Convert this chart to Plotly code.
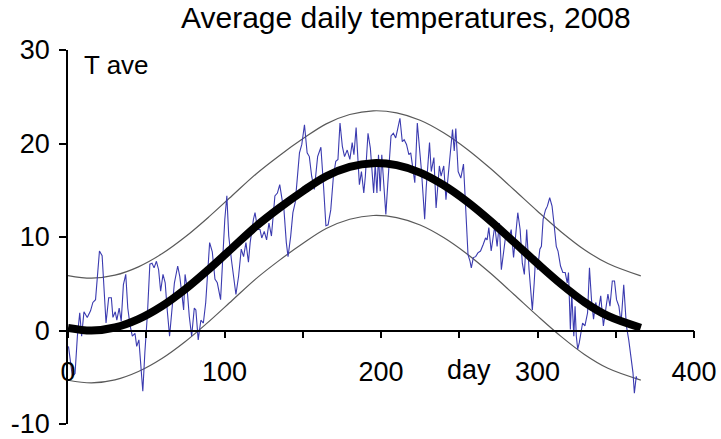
import plotly.graph_objects as go

# ---- data ----
mean_days = [0, 15, 30, 45, 60, 75, 90, 105, 120, 135, 150, 165, 180, 195, 210,
             225, 240, 255, 270, 285, 300, 315, 330, 345, 366]
mean_vals = [0.28, 0.0, 0.32, 1.21, 2.60, 4.42, 6.55, 8.84, 11.12, 13.1, 14.9, 16.5,
             17.5, 17.9, 17.68, 16.89, 15.55, 13.79, 11.72, 9.45, 7.16, 4.97, 3.04, 1.56, 0.3]
upper_vals = [5.88, 5.6, 5.92, 6.81, 8.2, 10.02, 12.15, 14.44, 16.72, 18.7, 20.5, 22.1,
              23.1, 23.5, 23.28, 22.49, 21.15, 19.39, 17.32, 15.05, 12.76, 10.57, 8.64, 7.16, 5.84]
lower_vals = [-5.32, -5.6, -5.28, -4.39, -3.0, -1.18, 0.95, 3.24, 5.52, 7.5, 9.3, 10.9,
              11.9, 12.3, 12.08, 11.29, 9.95, 8.19, 6.12, 3.85, 1.56, -0.63, -2.56, -4.04, -5.3]

obs_days = [0.3, 2.8, 4.5, 6.0, 7.5, 8.7, 10.2, 12.3, 14.4, 15.9, 17.6, 18.6, 20.1, 21.8,
            23.5, 24.3, 26, 27.7, 28.7, 30.2, 31.2, 32.7, 34, 35.4, 36.9, 38.2, 39.6, 41.1,
            42.8, 43.9, 45.3, 46.6, 47.8, 49.1, 50.8, 52.3, 53.7, 55, 56.5, 57.9, 59.2, 60.7,
            62.1, 63.4, 64.9, 66.4, 68, 70.1, 71.4, 72.7, 73.9, 74.8, 76, 77.5, 79, 80.7,
            81.7, 83.2, 84.9, 86.5, 88, 90.5, 92.2, 93.9, 95.4, 97.5, 98.9, 100.2, 101.5,
            102.7, 104.4, 105.9, 107.3, 109, 110.7, 112.2, 113.7, 115.3, 116.4, 118.5, 119.5,
            121.2, 122.7, 123.8, 125.4, 126.9, 128.4, 130, 132.2, 133.8, 135.3, 136.8, 138,
            139.5, 140.6, 142.3, 143.7, 145.2, 146.9, 147.9, 149.4, 151.1, 152.8, 154.2,
            155.7, 157.4, 159.5, 161.6, 163.3, 164.8, 166.2, 167.9, 169.6, 171.1, 172.5,
            173.8, 175.3, 176.7, 178.4, 180.1, 181.6, 182.7, 184.1, 185.4, 186.2, 187.5, 189,
            190, 191.7, 193.2, 194.2, 195.3, 196.3, 197.4, 198.4, 199.5, 200.5, 201.6, 203.1,
            204.3, 205.2, 206.4, 207.9, 209.4, 210.6, 212.1, 213.6, 214.8, 216.3, 217.8, 219,
            220.5, 221.6, 223.2, 224.7, 225.8, 226.8, 227.9, 228.9, 230, 231, 232.1, 233.8,
            235.2, 236.3, 237.3, 238.4, 240.1, 241.5, 242.6, 244.3, 245.7, 246.8, 247.8,
            249.3, 251, 252.7, 253.5, 254.8, 255.6, 256.9, 257.7, 259, 260.5, 261.9, 263.6,
            265.3, 266.8, 267.8, 268.9, 270.4, 272.7, 274.2, 275.6, 276.9, 278.4, 279.8,
            281.5, 283.2, 284.7, 286.1, 287.4, 288.9, 290.3, 291.6, 293.1, 294.6, 295.8,
            296.7, 297.9, 298.8, 300, 301.5, 302.5, 303.6, 305.1, 306.3, 307.8, 309.3, 310.5,
            312, 313.1, 314.7, 316.2, 317.7, 319, 319.8, 321, 321.9, 323.2, 324, 324.8, 325.7,
            326.7, 327.8, 328.8, 330.3, 332, 333.2, 334.5, 335.8, 337.2, 338.7, 340.4, 342.1,
            343.6, 345, 346.3, 347.8, 349.2, 350.5, 352, 353.4, 355.1, 356.8, 358.3, 359.7,
            361, 361.9, 363.1, 363.5]
obs_temps = [-1.7, -4.9, -4.6, -0.6, 1.9, -0.6, 2.0, 1.4, 2.1, 3.0, 3.3, 5.5, 8.5, 8.0,
             2.6, 0.8, 3.5, 3.5, 1.4, 2.0, 1.1, 2.4, 1.0, 4.9, 6.0, 2.4, 0.6, -0.6,
             -0.3, -1.7, -1.0, -4.2, -6.5, -2.4, 1.9, 7.1, 7.2, 6.7, 7.4, 6.5, 4.2, 6.0,
             5.1, 2.2, -0.6, 2.2, 5.1, 6.9, 5.8, 4.0, 2.2, 6.0, 4.7, 1.5, -0.6, 2.4,
             2.2, -1.0, 1.1, 0.8, 3.0, 9.4, 8.4, 5.5, 5.1, 3.3, 7.9, 11.9, 14.4,
             10.1, 7.6, 5.8, 3.85, 5.8, 8.7, 7.9, 9.4, 7.3, 9.4, 11.9, 12.6,
             10.8, 10.8, 9.9, 10.6, 9.7, 11.5, 10.1, 14.4, 14.7, 15.6, 14.0, 12.9,
             9.4, 7.9, 10.1, 12.6, 13.7, 16.9, 19.0, 19.9, 22.0, 19.0, 18.6,
             16.5, 15.1, 18.6, 19.6, 15.4, 11.2, 11.3, 12.9, 16.5, 18.1, 18.3,
             22.2, 19.7, 18.6, 19.3, 18.3, 20.1, 18.8, 21.7, 18.5, 15.6, 17.0, 14.7,
             16.5, 21.1, 19.5, 17.0, 14.7, 17.8, 14.7, 18.8, 14.9, 18.8, 16.3, 12.4,
             15.6, 18.1, 20.8, 21.1, 20.6, 21.5, 22.7, 20.2, 20.4, 19.9, 18.8, 19.0,
             17.0, 15.8, 22.2, 19.5, 17.2, 14.7, 11.9, 15.3, 18.1, 20.1, 17.0, 18.5,
             13.1, 15.3, 17.6, 16.5, 17.6, 14.0, 16.0, 18.5, 21.5, 19.2, 21.6,
             17.0, 16.3, 17.8, 14.9, 11.7, 8.1, 7.4, 6.7, 7.8, 7.9, 8.3, 8.5,
             9.2, 9.9, 9.7, 11.0, 8.5, 11.2, 9.0, 11.5, 6.5, 8.3, 10.3,
             9.7, 10.8, 7.8, 10.3, 12.6, 10.8, 7.2, 6.0, 10.8, 6.5, 4.4,
             2.2, 5.1, 7.9, 6.5, 8.7, 9.0, 11.9, 12.9, 13.3, 14.2, 13.3, 11.5,
             9.0, 8.5, 6.9, 6.2, 6.2, 5.1, 6.2, 0.1, 4.0, -0.6, 2.6, -0.6, -2.0,
             -1.3, -0.2, 0.8, 0.5, 1.9, 6.7, 3.3, 1.2, 3.0, 1.9, 3.7, 0.5,
             2.6, 3.9, 2.6, 5.3, 5.3, 3.3, 2.6, 0.8, 4.9, 0.5, -1.0, -3.1,
             -4.5, -6.7, -4.9, -5.2]

x_ticks = [0, 50, 100, 150, 200, 250, 300, 350, 400]
x_labels = ["0", "", "100", "", "200", "", "300", "", "400"]
y_ticks = [-10, 0, 10, 20, 30]
y_labels = ["-10", "0", "10", "20", "30"]

FONT = "Liberation Sans, Arial, sans-serif"

fig = go.Figure()
fig.add_trace(go.Scatter(x=mean_days, y=upper_vals, mode="lines",
                         line=dict(color="#5a5a5a", width=1.2, shape="spline"),
                         hoverinfo="skip"))
fig.add_trace(go.Scatter(x=mean_days, y=lower_vals, mode="lines",
                         line=dict(color="#5a5a5a", width=1.2, shape="spline"),
                         hoverinfo="skip"))
fig.add_trace(go.Scatter(x=obs_days, y=obs_temps, mode="lines",
                         line=dict(color="#3b3bb0", width=1.1)))
fig.add_trace(go.Scatter(x=mean_days, y=mean_vals, mode="lines",
                         line=dict(color="black", width=8, shape="spline")))

fig.update_layout(
    width=721, height=439,
    margin=dict(l=68, r=27, t=50, b=15),
    paper_bgcolor="white", plot_bgcolor="white",
    showlegend=False,
    font=dict(family=FONT, color="black", size=26),
    xaxis=dict(range=[0, 400], anchor="free", position=0.25, automargin=False,
               tickvals=x_ticks, ticktext=x_labels,
               ticks="outside", ticklen=7, tickwidth=1.5, tickcolor="black",
               showline=True, linecolor="black", linewidth=1.5,
               showgrid=False, zeroline=False,
               tickfont=dict(family=FONT, size=27, color="black"),
               ticklabelstandoff=10, ticklabeloverflow="allow"),
    yaxis=dict(range=[-10, 30], tickvals=y_ticks, ticktext=y_labels, automargin=False,
               ticks="outside", ticklen=7, tickwidth=1.5, tickcolor="black",
               showline=True, linecolor="black", linewidth=1.5,
               showgrid=False, zeroline=False,
               tickfont=dict(family=FONT, size=27, color="black"),
               ticklabelstandoff=4, ticklabeloverflow="allow"),
    annotations=[
        dict(text="Average daily temperatures, 2008", xref="paper", yref="paper",
             x=0.54, y=1.0856, xanchor="center", yanchor="middle", showarrow=False,
             font=dict(family=FONT, size=30, color="black")),
        dict(text="T ave", xref="x", yref="y", x=9, y=28.4, xanchor="left",
             yanchor="middle", showarrow=False,
             font=dict(family=FONT, size=26, color="black")),
        dict(text="day", xref="x", yref="y", x=256, y=-4.2, xanchor="center",
             yanchor="middle", showarrow=False,
             font=dict(family=FONT, size=27, color="black")),
    ],
)

fig.write_html("out.html")
